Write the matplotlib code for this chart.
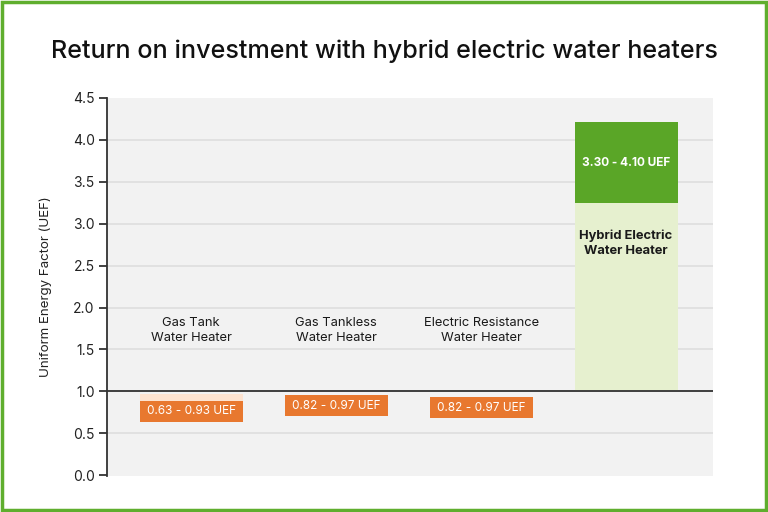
import numpy as np
import matplotlib
matplotlib.use("Agg")
import matplotlib.pyplot as plt
from matplotlib.patches import Rectangle

plt.rcParams["font.family"] = ["Inter", "DejaVu Sans"]

categories = ["Gas Tank\nWater Heater", "Gas Tankless\nWater Heater",
              "Electric Resistance\nWater Heater", "Hybrid Electric\nWater Heater"]
range_labels = ["0.63 - 0.93 UEF", "0.82 - 0.97 UEF", "0.82 - 0.97 UEF", "3.30 - 4.10 UEF"]
# box extents as drawn in the picture (UEF axis units)
box_bottom = [0.64, 0.70, 0.68, 3.25]
box_top = [0.88, 0.955, 0.93, 4.21]
halo_top = [0.97, None, None, None]
hybrid_base = 1.0
label_y = [1.73, 1.73, 1.73, 2.77]

ORANGE = "#e8782f"
ORANGE_LIGHT = "#fde3d0"
GREEN = "#5aa627"
GREEN_LIGHT = "#e6f0cf"
BORDER = "#5fae2e"

fig = plt.figure(figsize=(7.68, 5.12), dpi=100)
fig.patches.append(Rectangle((0.002, 0.003), 0.996, 0.994, transform=fig.transFigure,
                             fill=False, edgecolor=BORDER, linewidth=2.5))

ax = fig.add_axes([0.1395, 0.0703, 0.789, 0.7383])
ax.set_facecolor("#f2f2f2")
x = np.arange(len(categories))
ax.set_xlim(-0.58, 3.6)
ax.set_ylim(-0.01, 4.5)

for y in np.arange(0.5, 4.5, 0.5):
    ax.axhline(y, color="#dedede", lw=1.2, zorder=1)

w = 0.71
# hybrid light column
ax.bar(x[3], box_bottom[3] - hybrid_base, w, bottom=hybrid_base,
       color=GREEN_LIGHT, zorder=2)
ax.axhline(1.0, color="#333333", lw=1.3, zorder=3)

for i in range(4):
    col = GREEN if i == 3 else ORANGE
    if halo_top[i] is not None:
        ax.bar(x[i], halo_top[i] - box_top[i], w, bottom=box_top[i],
               color=ORANGE_LIGHT, zorder=4)
    ax.bar(x[i], box_top[i] - box_bottom[i], w, bottom=box_bottom[i],
           color=col, zorder=4)
    ax.text(x[i], (box_top[i] + box_bottom[i]) / 2, range_labels[i],
            ha="center", va="center", color="white", fontsize=8.5,
            fontweight="bold" if i == 3 else "normal", zorder=5)
    ax.text(x[i], label_y[i], categories[i], ha="center", va="center",
            fontsize=9.3, color="#1a1a1a", linespacing=1.3,
            fontweight="bold" if i == 3 else "normal", zorder=5)

ax.set_xticks([])
ax.set_yticks(np.arange(0, 4.51, 0.5))
ax.set_yticklabels([f"{v:.1f}" for v in np.arange(0, 4.51, 0.5)], fontsize=10)
ax.tick_params(axis="y", length=6, width=1.3, color="#333333", pad=3,
               labelcolor="#222222")
for s in ["top", "right", "bottom"]:
    ax.spines[s].set_visible(False)
ax.spines["left"].set_color("#333333")
ax.spines["left"].set_linewidth(1.3)
ax.set_ylabel("Uniform Energy Factor (UEF)", fontsize=9.6, labelpad=15,
              color="#222222")

fig.text(0.5, 0.900, "Return on investment with hybrid electric water heaters",
         ha="center", va="center", fontsize=18.1, fontweight=500, color="#111111")

plt.savefig("out.png", dpi=100)
